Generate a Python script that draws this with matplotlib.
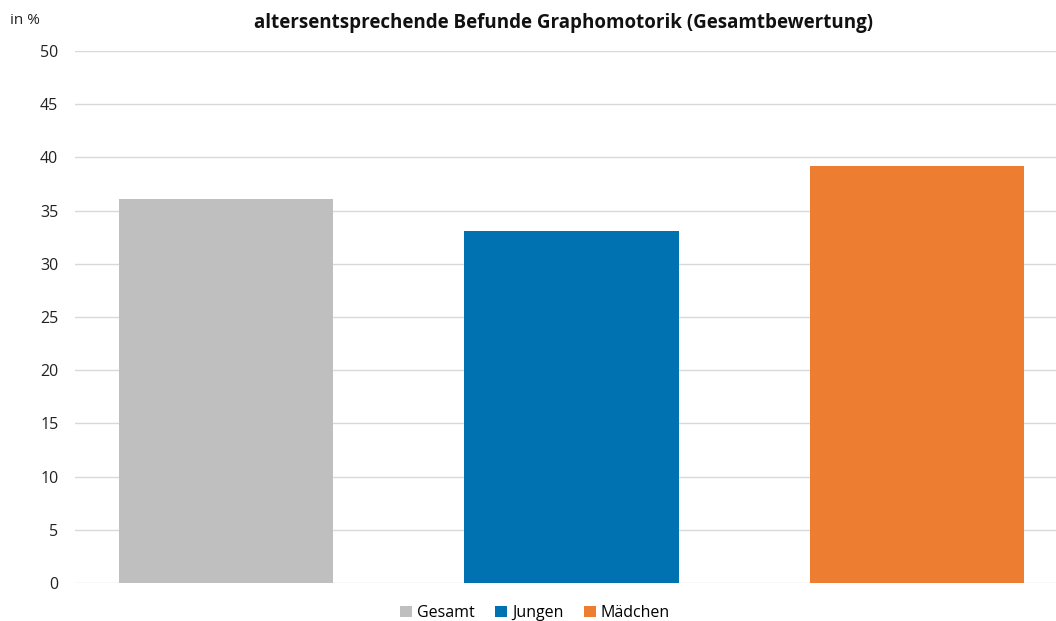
import matplotlib
matplotlib.use("Agg")
import matplotlib.pyplot as plt
from matplotlib.patches import Patch

categories = ["Gesamt", "Jungen", "Mädchen"]
values = [36.1, 33.1, 39.2]
colors = ["#BFBFBF", "#0072B1", "#ED7D31"]
yticks = [0, 5, 10, 15, 20, 25, 30, 35, 40, 45, 50]
title = "altersentsprechende Befunde Graphomotorik (Gesamtbewertung)"

plt.rcParams['font.family'] = ['Open Sans', 'DejaVu Sans']

W, H = 1056, 621
fig = plt.figure(figsize=(W / 100, H / 100), dpi=100)
ax = fig.add_axes([75 / W, (H - 583) / H, (1056 - 75) / W, (583 - 51) / H])

x = list(range(len(categories)))
ax.bar(x, values, width=0.62, color=colors, zorder=3)
ax.set_xlim(-0.437, 2.402)
ax.set_ylim(0, 50)
ax.set_yticks(yticks)
ax.set_yticklabels([str(t) for t in yticks], fontsize=11.5, color="#222222")
ax.tick_params(axis="y", length=0, pad=12)
ax.set_xticks([])
ax.grid(axis="y", color="#D9D9D9", linewidth=1, zorder=0)
for s in ax.spines.values():
    s.set_visible(False)

fig.text(564 / W, 1 - 23 / H, title, ha="center", va="center", fontsize=13.5, fontweight="bold", color="#111111")
fig.text(10 / W, 1 - 20 / H, "in %", ha="left", va="center", fontsize=11, color="#222222")

handles = [Patch(facecolor=c, edgecolor="none") for c in colors]
fig.legend(handles, categories, loc="center", bbox_to_anchor=(535 / W, 1 - 613 / H), ncol=3,
           frameon=False, fontsize=11.5, handlelength=0.75, handleheight=0.75,
           handletextpad=0.3, columnspacing=1.3)

fig.savefig("out.png", dpi=100)
